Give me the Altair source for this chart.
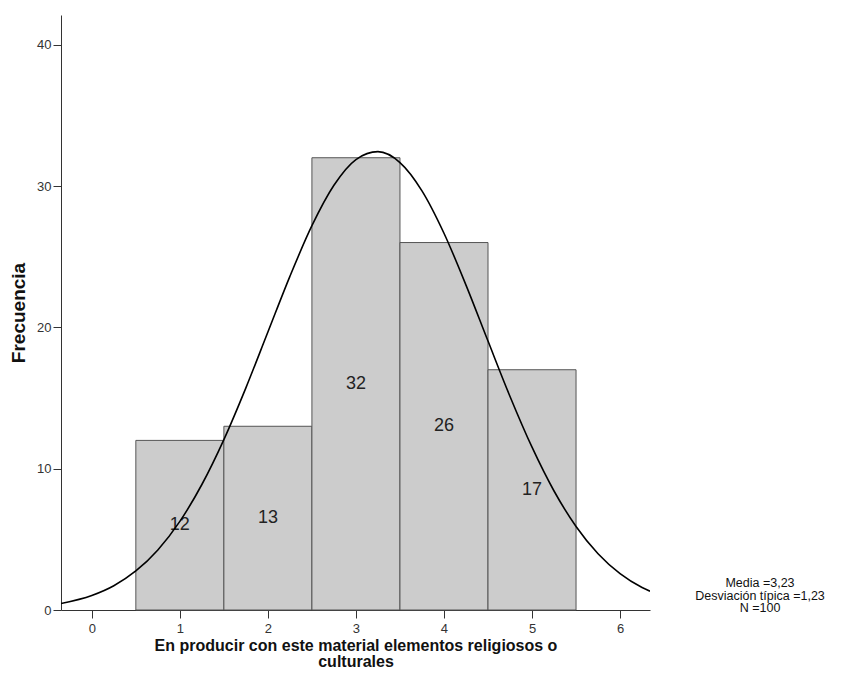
import altair as alt
import pandas as pd

# Histogram data
values = [1, 2, 3, 4, 5]
counts = [12, 13, 32, 26, 17]

# Normal curve (frequency scale)
curve_x = [-0.35, 0, 0.25, 0.5, 0.75, 1, 1.25, 1.5, 1.75, 2, 2.25, 2.5, 2.75, 3,
           3.25, 3.5, 3.75, 4, 4.25, 4.5, 4.75, 5, 5.25, 5.5, 5.75, 6, 6.25, 6.34]
curve_y = [0.46, 1.03, 1.72, 2.76, 4.25, 6.27, 8.88, 12.06, 15.72, 19.67, 23.61, 27.19,
           30.05, 31.87, 32.43, 31.66, 29.66, 26.66, 22.99, 19.03, 15.11, 11.52, 8.42,
           5.91, 3.98, 2.57, 1.59, 1.33]

stats_lines = ["Media =3,23", "Desviación típica =1,23", "N =100"]
x_ticks = [0, 1, 2, 3, 4, 5, 6]
y_ticks = [0, 10, 20, 30, 40]
x_title = ["En producir con este material elementos religiosos o", "culturales"]
y_title = "Frecuencia"

FONT = "Liberation Sans"

bars_df = pd.DataFrame({"v": values, "n": counts})
curve_df = pd.DataFrame({"x": curve_x, "y": curve_y})

xscale = alt.Scale(domain=[-0.35, 6.34], nice=False, zero=False)
yscale = alt.Scale(domain=[0, 42.1], nice=False)

xaxis = alt.Axis(values=x_ticks, format="d", title=x_title, grid=False, tickSize=8,
                 labelPadding=4, labelFontSize=13, labelColor="#333333", labelFont=FONT,
                 titleFont=FONT, titleFontSize=16, titleFontWeight="bold",
                 titleColor="#111111", titlePadding=2, titleLineHeight=16.5,
                 domainColor="#333333", tickColor="#333333", labelFlush=False)
yaxis = alt.Axis(values=y_ticks, format="d", title=y_title, grid=False, tickSize=8,
                 labelPadding=2, labelFontSize=13, labelColor="#333333", labelFont=FONT,
                 titleFont=FONT, titleFontSize=19, titleFontWeight="bold",
                 titleColor="#111111", titlePadding=8,
                 domainColor="#333333", tickColor="#333333")

base = alt.Chart(bars_df).transform_calculate(
    x0="datum.v - 0.5", x1="datum.v + 0.5", half="datum.n / 2"
)

bars = base.mark_bar(fill="#cccccc", stroke="#555555", strokeWidth=1).encode(
    x=alt.X("x0:Q", scale=xscale, axis=xaxis),
    x2="x1:Q",
    y=alt.Y("n:Q", scale=yscale, axis=yaxis),
    y2=alt.datum(0),
)

labels = base.mark_text(font=FONT, fontSize=18, color="#222222", baseline="middle").encode(
    x=alt.X("v:Q", scale=xscale),
    y=alt.Y("half:Q", scale=yscale),
    text=alt.Text("n:Q"),
)

curve = alt.Chart(curve_df).mark_line(color="#000000", strokeWidth=1.6,
                                      interpolate="monotone", clip=True).encode(
    x=alt.X("x:Q", scale=xscale),
    y=alt.Y("y:Q", scale=yscale),
)

stats = alt.Chart(pd.DataFrame({"t": [0]})).mark_text(
    font=FONT, fontSize=12.5, color="#111111", align="center", baseline="middle",
    lineHeight=12.5
).encode(
    x=alt.value(699),
    y=alt.value(568),
    text=alt.value(stats_lines),
)

chart = alt.layer(bars, labels, curve, stats).properties(
    width=589, height=595,
    padding={"left": 53, "top": 7, "right": 184, "bottom": 61},
    autosize=alt.AutoSizeParams(type="none"),
    view=alt.ViewBackground(stroke="transparent", strokeWidth=0),
).configure_view(stroke="transparent", strokeWidth=0).configure(background="white")

chart.save("out.html", embed_options={"renderer": "svg", "actions": False})
